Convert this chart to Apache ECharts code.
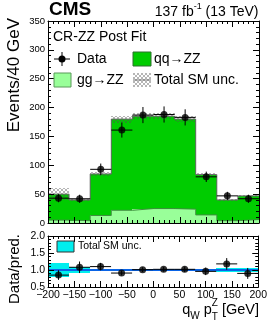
<!DOCTYPE html>
<html><head><meta charset="utf-8">
<script src="https://cdn.jsdelivr.net/npm/echarts@6/dist/echarts.min.js"></script>
<style>html,body{margin:0;padding:0;background:#fff}#c{width:270px;height:327px}</style>
</head><body><div id="c"></div>
<script>
// ---- data ----
const binEdges = [-200,-160,-120,-80,-40,0,40,80,120,160,200];
const dataCounts = [43,42,93,161,187,188,183,80,47,42];
const dataErrors = [7,7,10,13,14,14,14,9,7,7];
const qqZZ = [45,36,72,158,160,160,156,70,36,41];
const ggZZ = [5,4,13,22,25,25,24,14,4,6];
const totalSM = [50,40,85,180,185,185,180,84,40,47];
const totalUnc = [10,2,3,6,5,5,5,3,2,2];
const ratioValues = [0.85,1.08,1.10,0.91,1.01,1.02,1.02,0.96,1.18,0.90];
const ratioErrors = [0.14,0.17,0.11,0.07,0.07,0.07,0.08,0.11,0.17,0.16];
const ratioUnc = [0.21,0.09,0.04,0.035,0.03,0.03,0.03,0.04,0.06,0.05];
const mainYTicks = [0,50,100,150,200,250,300,350];
const ratioYTicks = [0.5,1.0,1.5,2.0];
const xTicks = [-200,-150,-100,-50,0,50,100,150,200];

const FONT = '"Liberation Sans", Arial, Helvetica, sans-serif';
const nb = binEdges.length - 1;
const lo = binEdges.slice(0, nb), hi = binEdges.slice(1);

// hatch pattern
const pc = document.createElement('canvas'); pc.width = 4; pc.height = 4;
const pctx = pc.getContext('2d');
pctx.fillStyle = 'rgba(80,80,80,0.42)';
[[0,0],[1,1],[2,2],[3,3],[3,0],[2,1],[1,2],[0,3]].forEach(([x,y]) => pctx.fillRect(x,y,1,1));
const hatch = {image: pc, repeat: 'repeat'};

function rectSeries(name, bottoms, tops, fill, gi, z) {
  return {
    type: 'custom', name, xAxisIndex: gi*2, yAxisIndex: gi*2, z, silent: true,
    data: lo.map((l,i) => [l, hi[i], bottoms[i], tops[i]]),
    renderItem(params, api) {
      const a = api.coord([api.value(0), api.value(3)]);
      const b = api.coord([api.value(1), api.value(2)]);
      const x0 = Math.round(a[0]), x1 = Math.round(b[0]);
      const y0 = Math.round(a[1]), y1 = Math.round(b[1]);
      return {type: 'rect', shape: {x: x0, y: y0, width: x1-x0, height: y1-y0}, style: {fill, stroke: null}};
    }
  };
}
function stepLine(vals, color, gi, z, w) {
  const d = binEdges.map((e,i) => [e, vals[Math.min(i, nb-1)]]);
  return {type: 'line', step: 'end', data: d, xAxisIndex: gi*2, yAxisIndex: gi*2, z, silent: true,
    symbol: 'none', lineStyle: {color, width: w || 1}, animation: false};
}
function errSeries(vals, errs, gi, z) {
  return {
    type: 'custom', xAxisIndex: gi*2, yAxisIndex: gi*2, z, silent: true,
    data: lo.map((l,i) => [l, hi[i], vals[i], errs[i]]),
    renderItem(params, api) {
      const x0 = api.value(0), x1 = api.value(1), y = api.value(2), e = api.value(3);
      const a = api.coord([x0, y]), b = api.coord([x1, y]);
      const c1 = api.coord([(x0+x1)/2, y-e]), c2 = api.coord([(x0+x1)/2, y+e]);
      return {type: 'group', children: [
        {type: 'line', shape: {x1: a[0], y1: a[1], x2: b[0], y2: b[1]}, style: {stroke: '#000', lineWidth: 1}},
        {type: 'line', shape: {x1: c1[0], y1: c1[1], x2: c2[0], y2: c2[1]}, style: {stroke: '#000', lineWidth: 1}}
      ]};
    }
  };
}
function points(vals, gi, z) {
  return {type: 'scatter', xAxisIndex: gi*2, yAxisIndex: gi*2, z, silent: true, symbol: 'circle', symbolSize: 7,
    itemStyle: {color: '#000'}, data: lo.map((l,i) => [(l+hi[i])/2, vals[i]])};
}

function xAx(gi, pos, labels) {
  return {type: 'value', gridIndex: gi, position: pos, min: -200, max: 200, interval: 50, z: 10,
    axisLine: {show: true, onZero: false, lineStyle: {color: '#000', width: 1}},
    axisTick: {show: true, inside: true, length: 6, lineStyle: {color: '#000'}},
    minorTick: {show: true, splitNumber: 5, length: 3, lineStyle: {color: '#000'}},
    splitLine: {show: false},
    axisLabel: {show: labels, color: '#000', fontSize: 10.5, fontFamily: FONT, margin: 3,
      formatter: v => xTicks.includes(v) ? String(v).replace('-', '\u2212') : ''}};
}
function yAx(gi, pos, min, max, interval, labels, fmt, fs) {
  return {type: 'value', gridIndex: gi, position: pos, min, max, interval, z: 10,
    axisLine: {show: true, onZero: false, lineStyle: {color: '#000', width: 1}},
    axisTick: {show: true, inside: true, length: 6, lineStyle: {color: '#000'}},
    minorTick: {show: true, splitNumber: 5, length: 3, lineStyle: {color: '#000'}},
    splitLine: {show: false},
    axisLabel: {show: labels, color: '#000', fontSize: fs, fontFamily: FONT, margin: 3, formatter: fmt}};
}

const mctx = document.createElement('canvas').getContext('2d');
function tw(t, size, weight) { mctx.font = (weight || 'normal') + ' ' + size + 'px ' + FONT; return mctx.measureText(t).width; }
function txt(text, x, y, size, opts) {
  opts = opts || {};
  return {type: 'text', x, y, rotation: opts.rotation || 0, silent: true, z: 100,
    style: {text, fill: '#000', fontSize: size, fontFamily: FONT, fontWeight: opts.weight || 'normal',
      align: opts.align || 'left', verticalAlign: opts.va || 'middle',
      textAlign: opts.align || 'left', textVerticalAlign: opts.va || 'middle'}};
}

const graphics = [];
// header
graphics.push(txt('CMS', 49, 10, 19, {weight: 'bold'}));
{
  const right = 258.5, f = 14, fs = 9;
  const w3 = tw(' (13 TeV)', f), w2 = tw('-1', fs), w1 = tw('137 fb', f);
  const x1 = right - w3 - w2 - w1;
  graphics.push(txt('137 fb', x1, 12, f));
  graphics.push(txt('-1', x1 + w1, 7, fs));
  graphics.push(txt(' (13 TeV)', x1 + w1 + w2, 12, f));
}
// y titles
graphics.push(txt('Events/40 GeV', 14, 18, 17, {rotation: Math.PI/2, align: 'right'}));
graphics.push(txt('Data/pred.', 15, 269, 15, {rotation: Math.PI/2, align: 'center'}));
// x title
{
  const f = 14.5, fs = 10, y = 309.5, right = 259;
  const parts = [['q', f, 0], ['W', fs, 7], [' p', f, 0], ['Z', fs, -6, 'T'], [' [GeV]', f, 0]];
  let total = 0;
  parts.forEach(p => total += tw(p[0], p[1]));
  let x = right - total;
  parts.forEach(p => {
    graphics.push(txt(p[0], x, y + p[2], p[1]));
    if (p[3]) graphics.push(txt(p[3], x, y + 8, p[1]));
    x += tw(p[0], p[1]);
  });
}
// main legend
graphics.push(txt('CR-ZZ Post Fit', 53, 37, 14));
graphics.push({type: 'line', silent: true, z: 100, shape: {x1: 54, y1: 59, x2: 70, y2: 59}, style: {stroke: '#000', lineWidth: 1}});
graphics.push({type: 'line', silent: true, z: 100, shape: {x1: 62, y1: 52, x2: 62, y2: 66}, style: {stroke: '#000', lineWidth: 1}});
graphics.push({type: 'circle', silent: true, z: 100, shape: {cx: 62, cy: 59, r: 3.5}, style: {fill: '#000'}});
graphics.push(txt('Data', 77, 59, 14));
graphics.push({type: 'rect', silent: true, z: 100, shape: {x: 133, y: 52, width: 18, height: 14}, style: {fill: '#00cc00', stroke: '#2f6f2f', lineWidth: 1}});
graphics.push(txt('qq\u2192ZZ', 154, 59, 14));
graphics.push({type: 'rect', silent: true, z: 100, shape: {x: 54, y: 73, width: 17, height: 14}, style: {fill: '#99ff99', stroke: '#5a9a5a', lineWidth: 1}});
graphics.push(txt('gg\u2192ZZ', 77, 80, 14));
graphics.push({type: 'rect', silent: true, z: 100, shape: {x: 133, y: 73, width: 18, height: 14}, style: {fill: hatch, stroke: null}});
graphics.push({type: 'line', silent: true, z: 100, shape: {x1: 133, y1: 80, x2: 151, y2: 80}, style: {stroke: '#777', lineWidth: 1}});
graphics.push(txt('Total SM unc.', 154, 80, 14));
// ratio legend
graphics.push({type: 'rect', silent: true, z: 100, shape: {x: 57, y: 241, width: 17, height: 11}, style: {fill: '#00eeee', stroke: '#333', lineWidth: 1}});
graphics.push(txt('Total SM unc.', 78, 246.5, 10.5));

const chart = echarts.init(document.getElementById('c'), null, {renderer: 'canvas'});
chart.setOption({
  animation: false,
  backgroundColor: '#fff',
  grid: [
    {left: 48, top: 21, width: 211, height: 202},
    {left: 48, top: 236, width: 211, height: 51}
  ],
  xAxis: [xAx(0, 'bottom', false), xAx(0, 'top', false), xAx(1, 'bottom', true), xAx(1, 'top', false)],
  yAxis: [
    yAx(0, 'left', 0, 350, 50, true, v => mainYTicks.includes(v) ? String(v) : '', 9.5),
    yAx(0, 'right', 0, 350, 50, false, null, 9.5),
    yAx(1, 'left', 0.5, 2.0, 0.5, true, v => ratioYTicks.includes(v) ? v.toFixed(1) : '', 10.5),
    yAx(1, 'right', 0.5, 2.0, 0.5, false, null, 10.5)
  ],
  series: [
    rectSeries('qq\u2192ZZ', ggZZ, totalSM, '#00cc00', 0, 2),
    rectSeries('gg\u2192ZZ', lo.map(() => 0), ggZZ, '#99ff99', 0, 3),
    stepLine(ggZZ, '#3f8f3f', 0, 4),
    rectSeries('Total SM unc.', totalSM.map((t,i) => t - totalUnc[i]), totalSM.map((t,i) => t + totalUnc[i]), hatch, 0, 5),
    stepLine(totalSM, '#6a6a6a', 0, 6),
    errSeries(dataCounts, dataErrors, 0, 7),
    points(dataCounts, 0, 8),
    rectSeries('ratio unc', ratioUnc.map(u => 1 - u), ratioUnc.map(u => 1 + u), '#00eeee', 1, 2),
    {type: 'line', xAxisIndex: 2, yAxisIndex: 2, z: 3, silent: true, symbol: 'none',
      data: [[-200, 1], [200, 1]], lineStyle: {color: '#0a64e6', width: 2}},
    errSeries(ratioValues, ratioErrors, 1, 7),
    points(ratioValues, 1, 8)
  ],
  graphic: {elements: graphics}
});
</script></body></html>
